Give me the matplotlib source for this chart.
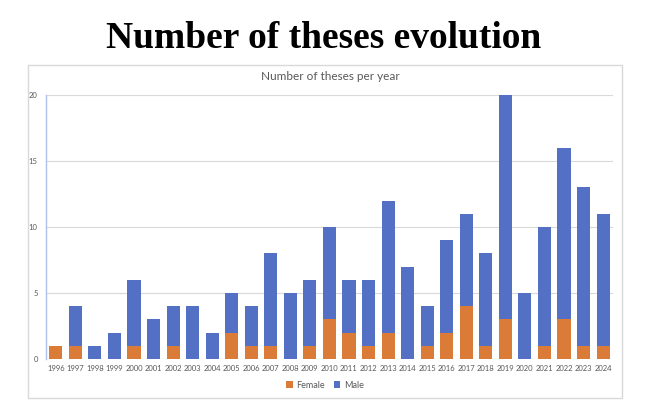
import numpy as np
import matplotlib
matplotlib.use("Agg")
import matplotlib.pyplot as plt
from matplotlib.patches import Rectangle

# data
years = [str(y) for y in range(1996, 2025)]
female = [1, 1, 0, 0, 1, 0, 1, 0, 0, 2, 1, 1, 0, 1, 3, 2, 1, 2, 0, 1, 2, 4, 1, 3, 0, 1, 3, 1, 1]
male = [0, 3, 1, 2, 5, 3, 3, 4, 2, 3, 3, 7, 5, 5, 7, 4, 5, 10, 7, 3, 7, 7, 7, 17, 5, 9, 13, 12, 10]
yticks = [0, 5, 10, 15, 20]

ORANGE = "#DA7B38"
BLUE = "#5470C4"
TXT = "#595959"

fig = plt.figure(figsize=(6.5, 4.0), dpi=100)

# chart frame (behind the axes)
fig.add_artist(Rectangle((0.043, 0.005), 0.914, 0.832, transform=fig.transFigure,
                         facecolor="none", edgecolor="#D9D9D9", lw=1.0, zorder=-1))

fig.text(0.498, 0.88, "Number of theses evolution", ha="center", va="baseline",
         fontsize=27, fontweight="heavy", family="Liberation Serif", color="black")

ax = fig.add_axes([0.0708, 0.1025, 0.872, 0.66])
ax.patch.set_alpha(0)
x = np.arange(len(years))
ax.bar(x, female, width=0.67, color=ORANGE, label="Female", zorder=3)
ax.bar(x, male, width=0.67, bottom=female, color=BLUE, label="Male", zorder=3)

ax.set_xlim(-0.5, len(years) - 0.5)
ax.set_ylim(0, 20)
ax.set_yticks(yticks)
ax.set_xticks(x)
ax.set_xticklabels(years)
ax.yaxis.grid(True, color="#D9D9D9", lw=0.8, zorder=0)
ax.tick_params(axis="both", length=0, labelsize=5.5, colors=TXT, labelfontfamily="Lato")
ax.tick_params(axis="y", pad=6)
ax.tick_params(axis="x", pad=4)
for s in ["top", "right", "bottom"]:
    ax.spines[s].set_visible(False)
ax.spines["left"].set_color("#AFC1E6")
ax.spines["left"].set_linewidth(1.0)

fig.text(0.508, 0.8075, "Number of theses per year", ha="center", va="center",
         fontsize=8.5, color=TXT, family="Lato")

fig.legend(loc="center", bbox_to_anchor=(0.5, 0.0375), ncol=2, frameon=False,
           handlelength=0.7, handleheight=0.7, columnspacing=1.0,
           handletextpad=0.4, labelcolor=TXT, prop={"family": "Lato", "size": 6.5})

fig.savefig("out.png", dpi=100, facecolor="white")
